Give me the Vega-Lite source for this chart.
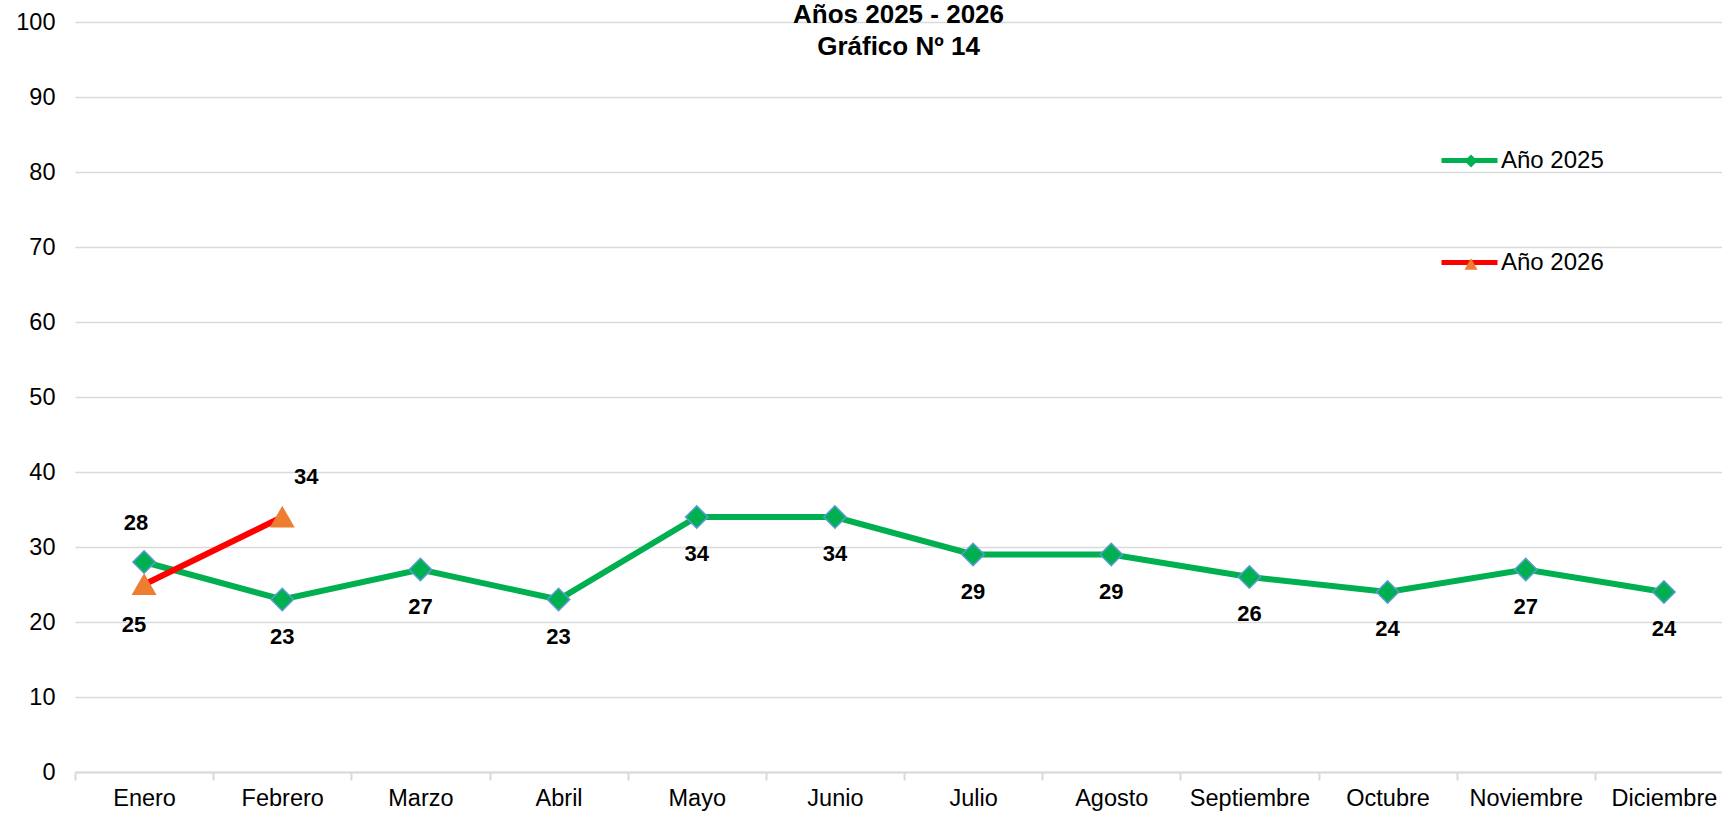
{
  "$schema": "https://vega.github.io/schema/vega-lite/v6.json",
  "width": 1647,
  "height": 750,
  "autosize": "none",
  "padding": {"left": 75, "top": 22, "right": 0, "bottom": 42},
  "background": "white",
  "config": {"view": {"stroke": null}, "font": "Liberation Sans"},
  "title": {
    "text": ["Años 2025 - 2026", "Gráfico Nº 14"],
    "font": "Liberation Sans",
    "fontSize": 26,
    "fontWeight": "bold",
    "lineHeight": 32,
    "anchor": "middle",
    "baseline": "top",
    "offset": -50,
    "color": "black"
  },
  "data": {
    "values": [
      {"mes": "Enero", "serie": "Año 2025", "valor": 28},
      {"mes": "Febrero", "serie": "Año 2025", "valor": 23},
      {"mes": "Marzo", "serie": "Año 2025", "valor": 27},
      {"mes": "Abril", "serie": "Año 2025", "valor": 23},
      {"mes": "Mayo", "serie": "Año 2025", "valor": 34},
      {"mes": "Junio", "serie": "Año 2025", "valor": 34},
      {"mes": "Julio", "serie": "Año 2025", "valor": 29},
      {"mes": "Agosto", "serie": "Año 2025", "valor": 29},
      {"mes": "Septiembre", "serie": "Año 2025", "valor": 26},
      {"mes": "Octubre", "serie": "Año 2025", "valor": 24},
      {"mes": "Noviembre", "serie": "Año 2025", "valor": 27},
      {"mes": "Diciembre", "serie": "Año 2025", "valor": 24},
      {"mes": "Enero", "serie": "Año 2026", "valor": 25},
      {"mes": "Febrero", "serie": "Año 2026", "valor": 34}
    ]
  },
  "encoding": {
    "x": {
      "field": "mes",
      "type": "ordinal",
      "sort": ["Enero", "Febrero", "Marzo", "Abril", "Mayo", "Junio", "Julio", "Agosto", "Septiembre", "Octubre", "Noviembre", "Diciembre"],
      "scale": {"type": "band", "paddingInner": 0, "paddingOuter": 0, "range": [0, 1658]},
      "axis": {
        "title": null,
        "labelAngle": 0,
        "labelFontSize": 23.5,
        "labelColor": "black",
        "labelPadding": 6,
        "domainColor": "#d9d9d9",
        "domainWidth": 2,
        "tickColor": "#d9d9d9",
        "tickWidth": 2,
        "tickSize": 8,
        "tickBand": "extent",
        "grid": false
      }
    },
    "y": {
      "field": "valor",
      "type": "quantitative",
      "scale": {"domain": [0, 100], "nice": false},
      "axis": {
        "title": null,
        "values": [0, 10, 20, 30, 40, 50, 60, 70, 80, 90, 100],
        "labelFontSize": 23.5,
        "labelColor": "black",
        "labelPadding": 20,
        "domain": false,
        "ticks": false,
        "grid": true,
        "gridColor": "#d9d9d9",
        "gridWidth": 1.5
      }
    }
  },
  "layer": [
    {
      "mark": {"type": "line", "strokeWidth": 6},
      "encoding": {
        "stroke": {
          "field": "serie",
          "type": "nominal",
          "scale": {"domain": ["Año 2025", "Año 2026"], "range": ["#00b050", "#ff0000"]},
          "legend": {
            "title": null,
            "orient": "none",
            "legendX": 1364,
            "legendY": 108,
            "padding": 0,
            "symbolType": "stroke",
            "symbolSize": 3136,
            "symbolStrokeWidth": 5,
            "labelFontSize": 24,
            "labelColor": "black",
            "labelOffset": 1,
            "rowPadding": 59
          }
        }
      }
    },
    {
      "mark": {"type": "point", "filled": true, "size": 500, "strokeWidth": 1.5, "opacity": 1},
      "encoding": {
        "fill": {
          "field": "serie",
          "type": "nominal",
          "scale": {"range": ["#00b050", "#ed7d31"]},
          "legend": {
            "title": null,
            "orient": "none",
            "legendX": 1385,
            "legendY": 128,
            "padding": 0,
            "symbolSize": 169,
            "symbolStrokeColor": "#5b9bd5",
            "symbolStrokeWidth": 1,
            "labelFontSize": 22,
            "labelExpr": "''",
            "rowPadding": 81
          }
        },
        "shape": {
          "field": "serie",
          "type": "nominal",
          "scale": {"range": ["diamond", "triangle-up"]},
          "legend": {
            "title": null,
            "orient": "none",
            "legendX": 1385,
            "legendY": 128,
            "padding": 0,
            "symbolSize": 169,
            "symbolStrokeColor": "#5b9bd5",
            "symbolStrokeWidth": 1,
            "labelFontSize": 22,
            "labelExpr": "''",
            "rowPadding": 81
          }
        },
        "stroke": {
          "condition": {"test": "datum.serie === 'Año 2025'", "value": "#5b9bd5"},
          "value": "#ed7d31"
        }
      }
    },
    {
      "transform": [{"filter": "datum.serie === 'Año 2025' && datum.mes !== 'Enero'"}],
      "mark": {"type": "text", "fontSize": 22, "fontWeight": "bold", "color": "black", "dy": 37, "baseline": "middle"},
      "encoding": {"text": {"field": "valor", "type": "quantitative"}}
    },
    {
      "transform": [{"filter": "datum.serie === 'Año 2025' && datum.mes === 'Enero'"}],
      "mark": {"type": "text", "fontSize": 22, "fontWeight": "bold", "color": "black", "dx": -8, "dy": -39, "baseline": "middle"},
      "encoding": {"text": {"field": "valor", "type": "quantitative"}}
    },
    {
      "transform": [{"filter": "datum.serie === 'Año 2026' && datum.mes === 'Enero'"}],
      "mark": {"type": "text", "fontSize": 22, "fontWeight": "bold", "color": "black", "dx": -10, "dy": 40, "baseline": "middle"},
      "encoding": {"text": {"field": "valor", "type": "quantitative"}}
    },
    {
      "transform": [{"filter": "datum.serie === 'Año 2026' && datum.mes === 'Febrero'"}],
      "mark": {"type": "text", "fontSize": 22, "fontWeight": "bold", "color": "black", "dx": 24, "dy": -40, "baseline": "middle"},
      "encoding": {"text": {"field": "valor", "type": "quantitative"}}
    }
  ]
}
